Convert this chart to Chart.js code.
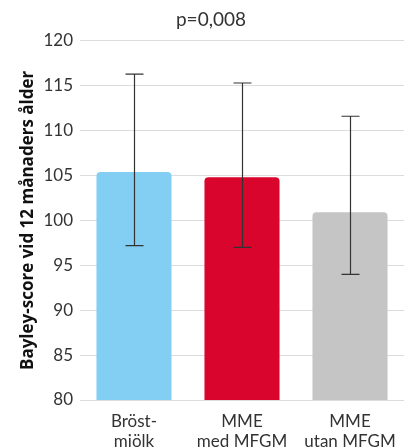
<!DOCTYPE html>
<html><head><meta charset="utf-8">
<script src="https://cdn.jsdelivr.net/npm/chart.js@4/dist/chart.umd.min.js"></script>
<style>html,body{margin:0;padding:0;background:#fff}#w{width:404px;height:447px}</style>
</head><body><div id="w"><canvas id="c"></canvas></div>
<script>
const categories = [["Bröst-","mjölk"],["MME","med MFGM"],["MME","utan MFGM"]];
const means = [105.4, 104.8, 100.9];
const errLow = [97.2, 97.0, 94.0];
const errHigh = [116.3, 115.3, 111.6];
const yTicks = [80, 85, 90, 95, 100, 105, 110, 115, 120];
const colors = ["#82CFF3", "#DA052C", "#C5C5C5"];
const titleText = "p=0,008";
const yTitle = "Bayley-score vid 12 månaders ålder";

const errorBars = {
  id: 'errorBars',
  afterDatasetsDraw(chart) {
    const ctx = chart.ctx, y = chart.scales.y, meta = chart.getDatasetMeta(0);
    ctx.save();
    ctx.strokeStyle = '#333';
    ctx.lineWidth = 1.2;
    meta.data.forEach((bar, i) => {
      const x = Math.round(bar.x) + 0.5;
      const yl = y.getPixelForValue(errLow[i]), yh = y.getPixelForValue(errHigh[i]);
      ctx.beginPath();
      ctx.moveTo(x, yl); ctx.lineTo(x, yh);
      ctx.moveTo(x - 9, yl); ctx.lineTo(x + 9, yl);
      ctx.moveTo(x - 9, yh); ctx.lineTo(x + 9, yh);
      ctx.stroke();
    });
    ctx.restore();
  }
};

new Chart(document.getElementById('c'), {
  type: 'bar',
  data: {
    labels: categories,
    datasets: [{
      data: means,
      backgroundColor: colors,
      borderRadius: 4,
      borderSkipped: false,
      barPercentage: 0.695,
      categoryPercentage: 1
    }]
  },
  options: {
    responsive: true, maintainAspectRatio: false, animation: false,
    layout: { padding: { top: 0, right: 0, bottom: 0, left: 18 } },
    plugins: {
      legend: { display: false }, tooltip: { enabled: false },
      title: { display: true, text: titleText, color: '#333', font: { family: 'Lato', size: 19, weight: 'normal' }, padding: { top: 8, bottom: 10 } }
    },
    scales: {
      x: {
        grid: { display: false }, border: { display: false },
        afterFit(ax) { ax.height = 47; },
        ticks: { color: '#333', font: { family: 'Lato', size: 17, lineHeight: 1.2 }, padding: 3, maxRotation: 0 }
      },
      y: {
        min: 80, max: 120,
        afterFit(ax) { ax.width = 62; },
        afterBuildTicks(ax) { ax.ticks = yTicks.map(v => ({ value: v })); },
        grid: { color: '#dcdcdc', drawTicks: false }, border: { display: false },
        ticks: { color: '#333', font: { family: 'Lato', size: 17 }, padding: 7 },
        title: { display: true, text: yTitle, color: '#111', font: { family: 'Open Sans', size: 17, weight: 'bold' }, padding: { top: 0, bottom: 0 } }
      }
    }
  },
  plugins: [errorBars]
});
</script></body></html>
